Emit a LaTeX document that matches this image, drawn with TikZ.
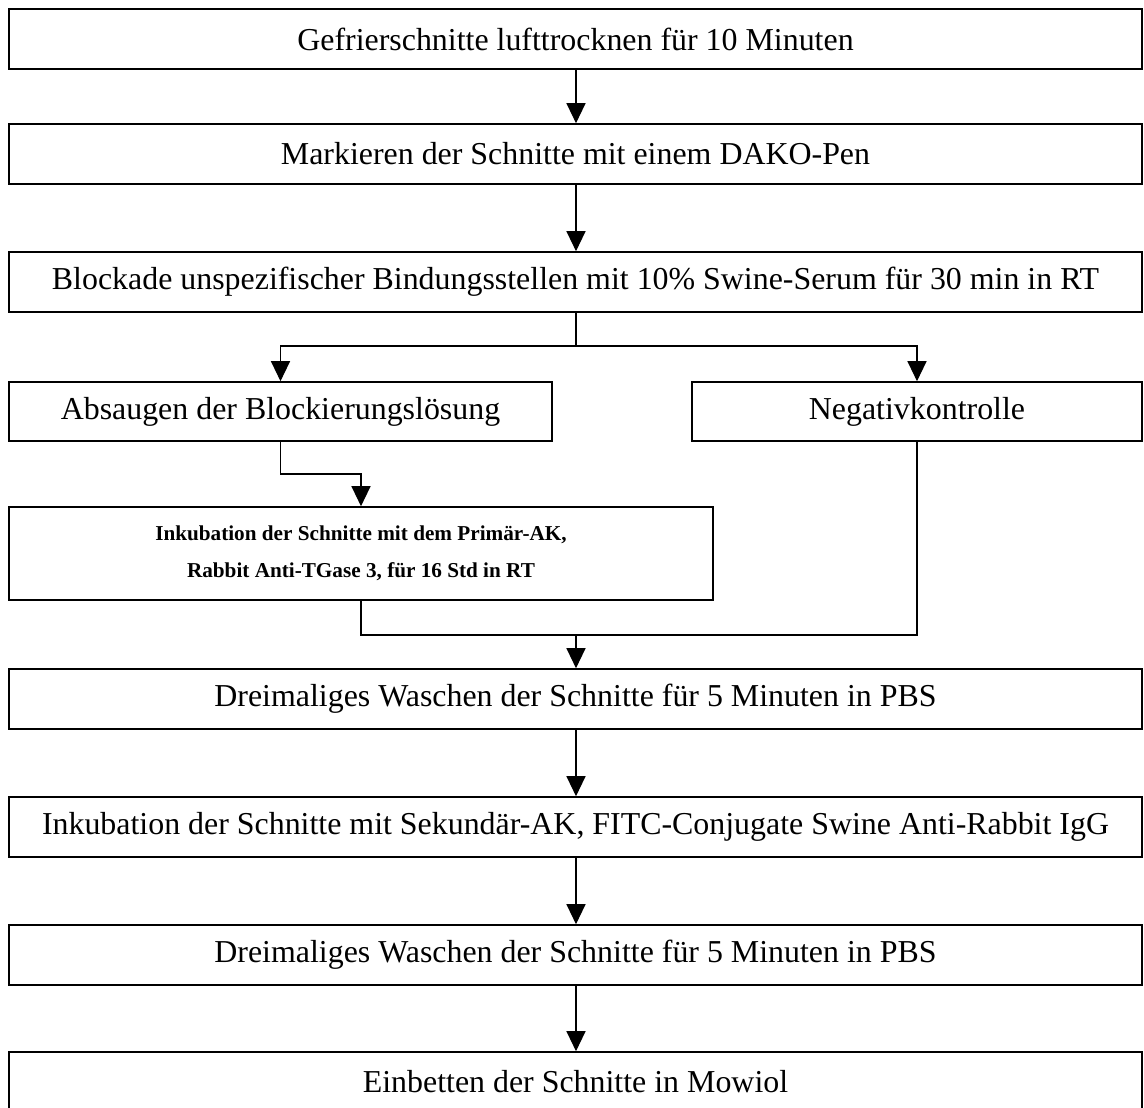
\documentclass[tikz,border=0pt]{standalone}
\usepackage{fontspec}
\setmainfont{Liberation Serif}
\usetikzlibrary{arrows.meta}
\begin{document}
\begin{tikzpicture}[x=1pt,y=-1pt,
  box/.style={draw=black,line width=1.6pt,inner sep=0pt,font=\fontsize{31.9}{38}\selectfont,anchor=center},
  wide/.style={box,minimum width=1133pt,minimum height=60pt},
  conn/.style={line width=1.2pt},
  arr/.style={conn,-{Triangle[width=19pt,length=20pt]}}]
\useasboundingbox (0,0) rectangle (1144,1108);
\node[wide] (b1) at (575.5,39) {Gefrierschnitte lufttrocknen für 10 Minuten};
\node[wide] (b2) at (575.5,154) {Markieren der Schnitte mit einem DAKO-Pen};
\node[wide] (b3) at (575.5,282) {Blockade unspezifischer Bindungsstellen mit 10\% Swine-Serum für 30 min in RT};
\node[box,minimum width=543pt,minimum height=59pt] (abs) at (280.5,411.5) {Absaugen der Blockierungslösung};
\node[box,minimum width=450pt,minimum height=59pt] (neg) at (917,411.5) {Negativkontrolle};
\node[box,minimum width=704pt,minimum height=93pt,align=center,font=\fontsize{21.2}{37}\bfseries\selectfont] (ink1) at (361,553.5) {Inkubation der Schnitte mit dem Primär-AK,\\Rabbit Anti-TGase 3, für 16 Std in RT};
\node[wide] (d1) at (575.5,699) {Dreimaliges Waschen der Schnitte für 5 Minuten in PBS};
\node[wide] (ink2) at (575.5,827) {Inkubation der Schnitte mit Sekundär-AK, FITC-Conjugate Swine Anti-Rabbit IgG};
\node[wide] (d2) at (575.5,955) {Dreimaliges Waschen der Schnitte für 5 Minuten in PBS};
\node[wide] (e) at (575.5,1082) {Einbetten der Schnitte in Mowiol};
\coordinate (split) at (576,346);
\coordinate (ab1) at (280.5,474);
\coordinate (merge) at (576,635);
\draw[arr] (b1.south -| split) -- (b2.north -| split);
\draw[arr] (b2.south -| split) -- (b3.north -| split);
\draw[conn] (b3.south -| split) -- (split);
\draw[arr] (split) -| (abs.north);
\draw[arr] (split) -| (neg.north);
\draw[arr] (abs.south) -- (ab1) -| (ink1.north);
\draw[conn] (ink1.south) |- (merge);
\draw[conn] (neg.south) |- (merge);
\draw[arr] (merge) -- (d1.north -| merge);
\draw[arr] (d1.south -| merge) -- (ink2.north -| merge);
\draw[arr] (ink2.south -| merge) -- (d2.north -| merge);
\draw[arr] (d2.south -| merge) -- (e.north -| merge);
\end{tikzpicture}
\end{document}
